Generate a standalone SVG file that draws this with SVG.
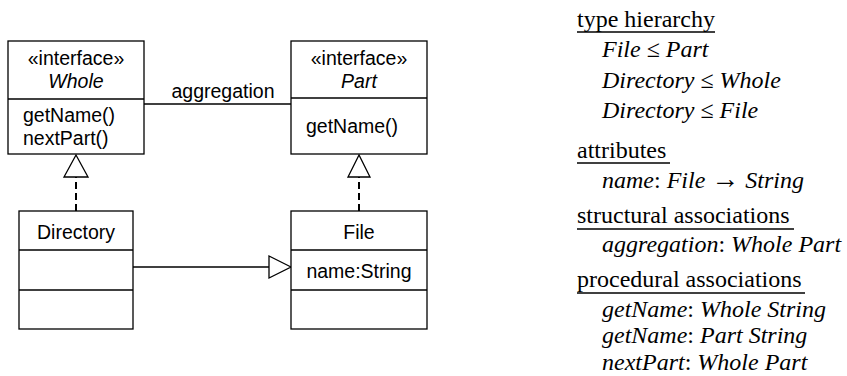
<svg xmlns="http://www.w3.org/2000/svg" width="847" height="376" viewBox="0 0 847 376">
  <style>
    .box { fill: #fff; stroke: #000; stroke-width: 1.3; }
    .sep { stroke: #000; stroke-width: 1.3; }
    .uml { font-family: "Liberation Sans", Arial, sans-serif; font-size: 19.5px; fill: #000; }
    .it { font-style: italic; }
    .line { fill: none; stroke: #000; stroke-width: 1.3; }
    .dash { fill: none; stroke: #000; stroke-width: 2; stroke-dasharray: 7 4; }
    .head { fill: #fff; stroke: #000; stroke-width: 1.3; }
    .rhs { font-family: "Liberation Serif", "Times New Roman", serif; font-size: 24px; fill: #000; }
    .rhs .i { font-style: italic; }
    .rhs .arrow { font-size: 28px; }
    .ul { stroke: #000; stroke-width: 1.3; }
  </style>

  <!-- connectors -->
  <g id="connectors">
    <!-- association Whole - Part -->
    <line class="line" x1="144" y1="104" x2="291" y2="104"/>
    <text class="uml" x="223" y="98" text-anchor="middle">aggregation</text>
    <!-- Directory realizes Whole -->
    <line class="dash" x1="76" y1="211" x2="76" y2="177"/>
    <polygon class="head" points="76,155 64,177 88,177"/>
    <!-- File realizes Part -->
    <line class="dash" x1="359" y1="211" x2="359" y2="177"/>
    <polygon class="head" points="359,155 348,177 370,177"/>
    <!-- Directory generalizes to File -->
    <line class="line" x1="133" y1="267" x2="269" y2="267"/>
    <polygon class="head" points="291,267 269,256 269,278"/>
  </g>

  <g id="whole">
    <rect class="box" x="8" y="41" width="136" height="113"/>
    <line class="sep" x1="8" y1="99" x2="144" y2="99"/>
    <text class="uml" x="76" y="65" text-anchor="middle">«interface»</text>
    <text class="uml it" x="76" y="88" text-anchor="middle">Whole</text>
    <text class="uml" x="23" y="122">getName()</text>
    <text class="uml" x="23" y="145">nextPart()</text>
  </g>

  <g id="part">
    <rect class="box" x="291" y="41" width="136" height="113"/>
    <line class="sep" x1="291" y1="98" x2="427" y2="98"/>
    <text class="uml" x="359" y="65" text-anchor="middle">«interface»</text>
    <text class="uml it" x="359" y="88" text-anchor="middle">Part</text>
    <text class="uml" x="306" y="133">getName()</text>
  </g>

  <g id="directory">
    <rect class="box" x="19" y="211" width="114" height="118"/>
    <line class="sep" x1="19" y1="250" x2="133" y2="250"/>
    <line class="sep" x1="19" y1="290" x2="133" y2="290"/>
    <text class="uml" x="76" y="239" text-anchor="middle">Directory</text>
  </g>

  <g id="file">
    <rect class="box" x="291" y="211" width="136" height="118"/>
    <line class="sep" x1="291" y1="250" x2="427" y2="250"/>
    <line class="sep" x1="291" y1="290" x2="427" y2="290"/>
    <text class="uml" x="359" y="239" text-anchor="middle">File</text>
    <text class="uml" x="359" y="278" text-anchor="middle">name:String</text>
  </g>

  <!-- textual model summary -->
  <g id="summary" class="rhs">
    <text x="577" y="27">type hierarchy</text>
    <line class="ul" x1="577" y1="32" x2="715" y2="32"/>
    <text x="602" y="57"><tspan class="i">File</tspan> ≤ <tspan class="i">Part</tspan></text>
    <text x="602" y="88"><tspan class="i">Directory</tspan> ≤ <tspan class="i">Whole</tspan></text>
    <text x="602" y="118"><tspan class="i">Directory</tspan> ≤ <tspan class="i">File</tspan></text>

    <text x="577" y="158">attributes</text>
    <line class="ul" x1="577" y1="163" x2="670" y2="163"/>
    <text x="602" y="188"><tspan class="i">name</tspan>: <tspan class="i">File</tspan> <tspan class="arrow">→</tspan> <tspan class="i">String</tspan></text>

    <text x="577" y="223">structural associations</text>
    <line class="ul" x1="577" y1="229" x2="794" y2="229"/>
    <text x="602" y="252"><tspan class="i">aggregation</tspan>: <tspan class="i">Whole Part</tspan></text>

    <text x="577" y="287">procedural associations</text>
    <line class="ul" x1="577" y1="293" x2="805" y2="293"/>
    <text x="602" y="317"><tspan class="i">getName</tspan>: <tspan class="i">Whole String</tspan></text>
    <text x="602" y="343"><tspan class="i">getName</tspan>: <tspan class="i">Part String</tspan></text>
    <text x="602" y="370"><tspan class="i">nextPart</tspan>: <tspan class="i">Whole Part</tspan></text>
  </g>
</svg>
